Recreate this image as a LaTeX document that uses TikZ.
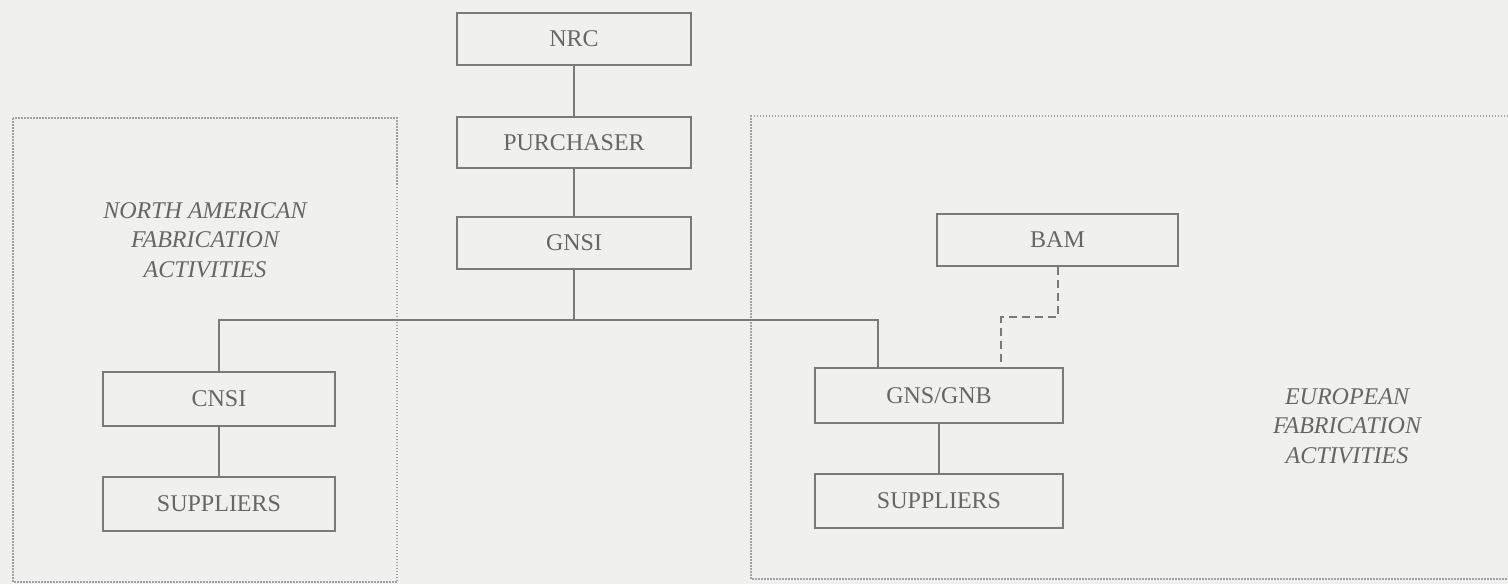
\documentclass[tikz,border=0pt]{standalone}
\usepackage{fontspec}
\setmainfont{Liberation Serif}
\usetikzlibrary{calc}
\definecolor{bgc}{HTML}{F0F0EE}
\definecolor{linec}{HTML}{7A7A7A}
\definecolor{textc}{HTML}{666666}
\tikzset{
  orgbox/.style={draw=linec, line width=2pt, rectangle, inner sep=0pt,
    text=textc, font=\fontsize{24}{28}\selectfont},
  conn/.style={draw=linec, line width=2pt},
  dashconn/.style={draw=linec, line width=2pt, dash pattern=on 8pt off 5pt},
  grp/.style={draw=linec!70, line width=1.2pt, dash pattern=on 1.5pt off 1.5pt},
  grplabel/.style={text=textc, align=center, inner sep=0pt,
    font=\fontsize{24}{29.5}\selectfont\itshape}
}
\begin{document}
\begin{tikzpicture}[x=1pt,y=-1pt]
\fill[bgc] (0,0) rectangle (1508,584);
\useasboundingbox (0,0) rectangle (1508,584);
% group frames
\draw[grp] (13,118) rectangle (397,582);
\draw[grp] (1508,116) -- (751,116) -- (751,579) -- (1508,579);
% boxes
\node[orgbox, minimum width=234pt, minimum height=52pt] (nrc) at (574,39) {NRC};
\node[orgbox, minimum width=234pt, minimum height=51pt] (pur) at (574,142.5) {PURCHASER};
\node[orgbox, minimum width=234pt, minimum height=52pt] (gnsi) at (574,243) {GNSI};
\node[orgbox, minimum width=232pt, minimum height=54pt] (cnsi) at (219,399) {CNSI};
\node[orgbox, minimum width=232pt, minimum height=54pt] (supl) at (219,504) {SUPPLIERS};
\node[orgbox, minimum width=241pt, minimum height=52pt] (bam) at (1057.5,240) {BAM};
\node[orgbox, minimum width=248pt, minimum height=55pt] (gns) at (939,395.5) {GNS/GNB};
\node[orgbox, minimum width=248pt, minimum height=54pt] (supr) at (939,501) {SUPPLIERS};
% labels
\node[grplabel] (nalabel) at (205,240) {NORTH AMERICAN\\FABRICATION\\ACTIVITIES};
\node[grplabel] (eulabel) at (1347,426) {EUROPEAN\\FABRICATION\\ACTIVITIES};
% connectors
\coordinate (j) at (574,320);
\coordinate (jr) at (878,320);
\coordinate (dk) at (1001,317);
\draw[conn] (nrc) -- (pur);
\draw[conn] (pur) -- (gnsi);
\draw[conn] (gnsi) -- (j);
\draw[conn] (cnsi.north) |- (jr) -- (jr |- gns.north);
\draw[conn] (cnsi) -- (supl);
\draw[conn] (gns) -- (supr);
\draw[dashconn] (bam.south) |- (dk) -- (dk |- gns.north);
\end{tikzpicture}
\end{document}
